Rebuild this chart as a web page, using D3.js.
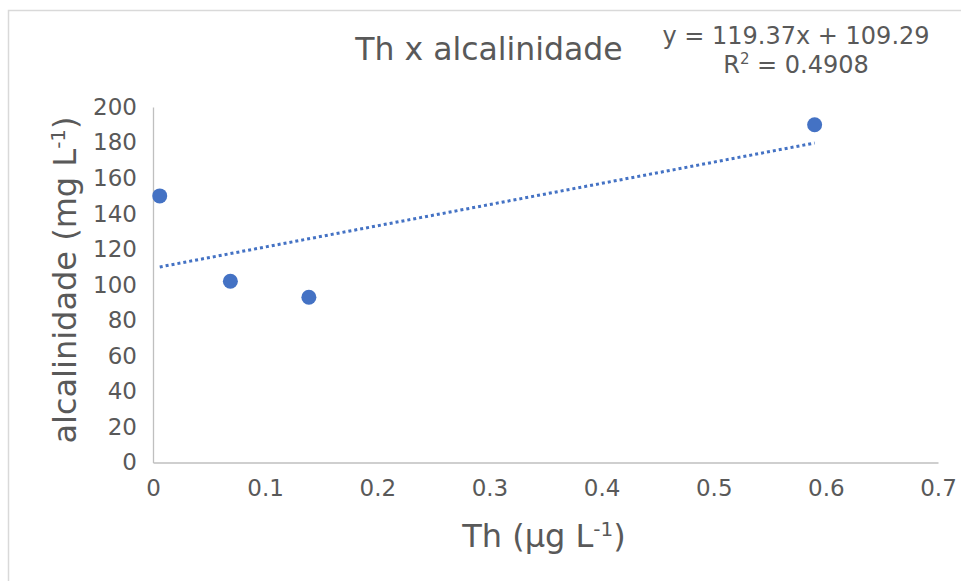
<!DOCTYPE html>
<html>
<head>
  <meta charset="UTF-8">
  <style>
    body { margin: 0; background: #fff; }
    text { font-family: "DejaVu Sans", sans-serif; fill: #595959; }
  </style>
</head>
<body>
<svg></svg>
<script src="https://d3js.org/d3.v7.min.js"></script>
<script>

let width = 961, height = 581;

// data
let thValues = [0.006, 0.069, 0.139, 0.59];
let alcValues = [150, 102, 93, 190];
let xTicks = [0, 0.1, 0.2, 0.3, 0.4, 0.5, 0.6, 0.7];
let yTicks = [0, 20, 40, 60, 80, 100, 120, 140, 160, 180, 200];
let trendSlope = 119.37, trendIntercept = 109.29;

let svg = d3.select("svg")
    .attr("width", width)
    .attr("height", height)

// chart frame
svg.append("rect")
    .attr("x", 8.5).attr("y", 10.5)
    .attr("width", 1000).attr("height", 1000)
    .attr("fill", "none")
    .attr("stroke", "#d9d9d9")
    .attr("stroke-width", 1.5)

var x = d3.scaleLinear().domain([0, 0.7]).range([153, 938]);
var y = d3.scaleLinear().domain([0, 200]).range([462.5, 107]);

// axes
var xAxis = svg.append("g")
    .attr("transform", "translate(0," + y(0) + ")")
    .call(d3.axisBottom(x).tickValues(xTicks).tickSize(0).tickPadding(17)
        .tickFormat(d => d === 0 ? "0" : d3.format(".1f")(d)))
xAxis.select(".domain").attr("stroke", "#bfbfbf").attr("stroke-width", 1.3)
xAxis.selectAll("text").style("font-size", "23px").attr("fill", "#595959")

var yAxis = svg.append("g")
    .attr("transform", "translate(" + x(0) + ",0)")
    .call(d3.axisLeft(y).tickValues(yTicks).tickSize(0).tickPadding(16))
yAxis.select(".domain").attr("stroke", "#bfbfbf").attr("stroke-width", 1.3)
yAxis.selectAll("text").style("font-size", "23px").attr("fill", "#595959")

// trendline
var xMin = d3.min(thValues), xMax = d3.max(thValues);
svg.append("line")
    .attr("x1", x(xMin)).attr("y1", y(trendSlope * xMin + trendIntercept))
    .attr("x2", x(xMax)).attr("y2", y(trendSlope * xMax + trendIntercept))
    .attr("stroke", "#4472c4")
    .attr("stroke-width", 3)
    .attr("stroke-dasharray", "3,3")

// points
svg.append("g")
    .selectAll("circle")
    .data(thValues)
    .enter()
    .append("circle")
    .attr("cx", d => x(d))
    .attr("cy", (d, i) => y(alcValues[i]))
    .attr("r", 7.5)
    .attr("fill", "#4472c4")

// title
svg.append("text")
    .attr("x", 489).attr("y", 60)
    .attr("text-anchor", "middle")
    .style("font-size", "31.5px")
    .text("Th x alcalinidade")

// equation
svg.append("text")
    .attr("x", 796).attr("y", 44)
    .attr("text-anchor", "middle")
    .style("font-size", "24px")
    .text("y = 119.37x + 109.29")
var r2 = svg.append("text")
    .attr("x", 796).attr("y", 73)
    .attr("text-anchor", "middle")
    .style("font-size", "24px")
r2.append("tspan").text("R")
r2.append("tspan").attr("dy", -9).style("font-size", "15px").text("2")
r2.append("tspan").attr("dy", 9).text(" = 0.4908")

// axis titles
var xt = svg.append("text")
    .attr("x", 544).attr("y", 547)
    .attr("text-anchor", "middle")
    .style("font-size", "32px")
xt.append("tspan").text("Th (µg L")
xt.append("tspan").attr("dy", -11).style("font-size", "20px").text("-1")
xt.append("tspan").attr("dy", 11).text(")")

var yt = svg.append("text")
    .attr("transform", "translate(76,280) rotate(-90)")
    .attr("text-anchor", "middle")
    .style("font-size", "32px")
yt.append("tspan").text("alcalinidade (mg L")
yt.append("tspan").attr("dy", -11).style("font-size", "20px").text("-1")
yt.append("tspan").attr("dy", 11).text(")")

</script>
</body>
</html>
